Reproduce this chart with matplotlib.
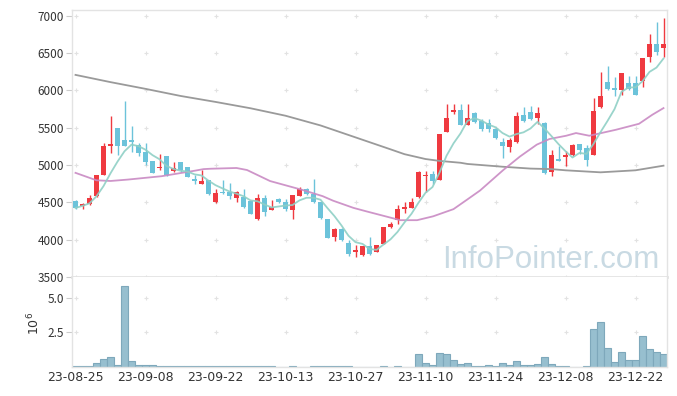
import matplotlib
matplotlib.use("Agg")
import matplotlib.pyplot as plt
import numpy as np
import pandas as pd

plt.rcParams['font.family'] = ['Noto Sans CJK KR', 'DejaVu Sans']

# ---------------- data ----------------
opens = [4520, 4450, 4475, 4580, 4865, 5250, 5500, 5340, 5340, 5270,
         5170, 5055, 4955, 5125, 4925, 5045, 4975, 4810, 4750, 4795,
         4500, 4637, 4637, 4560, 4570, 4516, 4280, 4560, 4404, 4538,
         4507, 4395, 4583, 4682, 4614, 4500, 4278, 4031, 4148, 3956,
         3835, 3791, 3913, 3835, 3943, 4170, 4270, 4409, 4430, 4565,
         4848, 4886, 4805, 5441, 5705, 5741, 5536, 5695, 5591, 5568,
         5486, 5305, 5241, 5305, 5668, 5705, 5623, 5568, 4902, 5085,
         5103, 5129, 5285, 5227, 5138, 5775, 6109, 6033, 5998, 6096,
         6096, 6131, 6443, 6621, 6572]
closes = [4425, 4480, 4555, 4865, 5260, 5285, 5260, 5250, 5310, 5160,
          5045, 4895, 4977, 4860, 4955, 4930, 4840, 4790, 4785, 4605,
          4630, 4623, 4583, 4637, 4440, 4350, 4560, 4368, 4440, 4502,
          4417, 4592, 4682, 4614, 4502, 4287, 4027, 4143, 3991, 3813,
          3857, 3913, 3804, 3930, 4170, 4204, 4409, 4443, 4509, 4910,
          4870, 4791, 5409, 5636, 5741, 5536, 5636, 5582, 5477, 5477,
          5355, 5250, 5341, 5650, 5591, 5614, 5695, 4895, 5138, 5058,
          5138, 5272, 5205, 5071, 5726, 5927, 6020, 5998, 6229, 6016,
          5940, 6430, 6621, 6519, 6621]
highs = [4530, 4485, 4600, 4870, 5300, 5650, 5500, 5860, 5520, 5295,
         5295, 5060, 5150, 5125, 5045, 5045, 4977, 4864, 4930, 4800,
         4680, 4805, 4753, 4650, 4673, 4520, 4605, 4592, 4530, 4560,
         4538, 4592, 4705, 4690, 4815, 4505, 4280, 4157, 4150, 4000,
         3930, 3913, 4040, 3935, 4175, 4240, 4465, 4500, 4552, 4920,
         4920, 4920, 5409, 5818, 5818, 5818, 5818, 5705, 5620, 5610,
         5500, 5364, 5364, 5714, 5773, 5795, 5773, 5580, 5196, 5250,
         5183, 5285, 5285, 5265, 5895, 6243, 6332, 6176, 6235, 6198,
         6198, 6435, 6755, 6920, 6964]
lows = [4410, 4410, 4470, 4570, 4860, 5160, 5140, 5250, 5180, 5114,
        5000, 4890, 4930, 4855, 4910, 4910, 4835, 4741, 4740, 4600,
        4495, 4605, 4538, 4500, 4426, 4340, 4269, 4314, 4400, 4490,
        4381, 4280, 4580, 4600, 4493, 4280, 4020, 3978, 3980, 3783,
        3770, 3783, 3800, 3830, 3940, 4160, 4204, 4357, 4425, 4560,
        4640, 4740, 4800, 5441, 5682, 5530, 5530, 5560, 5450, 5440,
        5350, 5091, 5170, 5300, 5570, 5600, 5545, 4880, 4858, 5050,
        4982, 5120, 5150, 4982, 5130, 5770, 6010, 5927, 5940, 6010,
        5935, 6051, 6385, 6474, 6452]
volumes = [0.08, 0.08, 0.08, 0.31, 0.60, 0.75, 0.17, 5.85, 0.46, 0.17,
           0.17, 0.17, 0.10, 0.10, 0.10, 0.10, 0.05, 0.05, 0.05, 0.05,
           0.05, 0.05, 0.05, 0.05, 0.05, 0.05, 0.10, 0.10, 0.05, 0.01,
           0.01, 0.07, 0.03, 0.01, 0.07, 0.07, 0.07, 0.07, 0.07, 0.07,
           0.03, 0.01, 0.03, 0.01, 0.07, 0.01, 0.07, 0.03, 0.03, 0.94,
           0.29, 0.14, 1.01, 0.94, 0.51, 0.22, 0.29, 0.07, 0.07, 0.17,
           0.07, 0.31, 0.17, 0.46, 0.17, 0.17, 0.24, 0.75, 0.24, 0.07,
           0.07, 0.02, 0.02, 0.10, 2.78, 3.29, 1.40, 0.39, 1.11, 0.53,
           0.53, 2.27, 1.33, 1.11, 0.92]

# moving averages (20-day and 120-day)
ma20_x = [0, 3, 5, 7.5, 12.3, 17, 18.3, 19.3, 23, 24.5, 27.8, 32.5, 35.3,
          36.8, 39.7, 41.6, 46.4, 48.8, 51.1, 54, 56, 57.8, 61.1, 63.5,
          65.9, 67.7, 70.1, 71.5, 73.4, 77.2, 80.5, 82.4, 84]
ma20_y = [4895, 4795, 4786, 4805, 4850, 4923, 4945, 4950, 4960, 4933,
          4785, 4664, 4583, 4522, 4426, 4378, 4261, 4261, 4313, 4409,
          4540, 4659, 4932, 5114, 5273, 5348, 5392, 5428, 5392, 5472,
          5552, 5673, 5762]
ma120_x = [0, 5, 10, 15, 20, 25, 30, 35, 40, 45, 47, 50, 52, 55, 56, 61,
           65, 68, 70, 75, 80, 84]
ma120_y = [6207, 6110, 6020, 5925, 5845, 5760, 5660, 5530, 5370, 5210,
           5145, 5080, 5055, 5030, 5014, 4977, 4952, 4945, 4929, 4902,
           4929, 4991]

tick_pos = [0, 10, 20, 30, 40, 50, 60, 70, 80]
tick_labels = ['23-08-25', '23-09-08', '23-09-22', '23-10-13', '23-10-27',
               '23-11-10', '23-11-24', '23-12-08', '23-12-22']
price_ticks = [3500, 4000, 4500, 5000, 5500, 6000, 6500, 7000]
vol_ticks = [2.5, 5.0]
vol_tick_labels = ['2.5', '5.0']

# ---------------- styling ----------------
UP = '#ef3a40'
DOWN = '#6cc3da'
VOLC = '#97bfcf'
VOLE = '#7ea8bb'
C_MA5 = '#8fd0c6'
C_MA20 = '#c98ac3'
C_MA120 = '#9a9a9a'
FRAME = '#e3e3e3'
TXT = '#333333'

n = len(opens)
x = np.arange(n)
o = np.array(opens, float)
c = np.array(closes, float)
h = np.array(highs, float)
l = np.array(lows, float)
ma5 = pd.Series(c).rolling(5, min_periods=1).mean().values

fig = plt.figure(figsize=(6.77, 3.96), dpi=100)
ax = fig.add_axes([72/677, 1-277/396, 595/677, 267/396])
axv = fig.add_axes([72/677, 1-367/396, 595/677, 90/396], sharex=ax)

# watermark
ax.text(0.988, 0.034, 'InfoPointer.com', transform=ax.transAxes, ha='right',
        va='baseline', fontsize=22.5, color='#c9dae3', family='Liberation Sans',
        zorder=0)

# grid crosses
for axx, yt in ((ax, price_ticks), (axv, vol_ticks)):
    gx, gy = np.meshgrid(tick_pos, yt)
    axx.scatter(gx.ravel(), gy.ravel(), marker='+', s=12, color='#e2e2e2',
                linewidths=0.8, zorder=0.5, clip_on=True)

# candles
up = c >= o
cols = np.where(up, UP, DOWN)
bottom = np.minimum(o, c)
height = np.maximum(np.abs(c - o), 12)
ax.vlines(x, l, h, colors=cols, linewidth=1.0, zorder=2)
ax.bar(x, height, bottom=bottom, width=0.72, color=cols, linewidth=0,
       zorder=3)

# moving averages
ax.plot(ma120_x, ma120_y, color=C_MA120, lw=1.3, zorder=4)
ax.plot(ma20_x, ma20_y, color=C_MA20, lw=1.3, zorder=4, alpha=0.9)
ax.plot(x, ma5, color=C_MA5, lw=1.3, zorder=4, alpha=0.9)

ax.set_xlim(-0.5, n - 0.5)
ax.set_ylim(3500, 7076)
ax.set_yticks(price_ticks)
ax.set_yticklabels([str(t) for t in price_ticks])
ax.tick_params(axis='y', length=4, width=0.8, color='#cccccc', pad=2,
               labelsize=8.5, labelcolor=TXT)
ax.tick_params(axis='x', length=0, labelbottom=False)

# volume
axv.bar(x, volumes, width=1.0, color=VOLC, edgecolor=VOLE, linewidth=0.8,
        zorder=2)
axv.set_ylim(0, 6.52)
axv.set_yticks(vol_ticks)
axv.set_yticklabels(vol_tick_labels)
axv.set_xticks(tick_pos)
axv.set_xticklabels(tick_labels, family=['DejaVu Sans'])
axv.tick_params(axis='y', length=4, width=0.8, color='#cccccc', pad=2,
                labelsize=8.5, labelcolor=TXT)
axv.tick_params(axis='x', length=0, pad=3, labelsize=9, labelcolor=TXT)
fig.text(34/677, 1-323/396, r'$10^{6}$', rotation=90, ha='center',
         va='center', fontsize=9, color=TXT)

for a in (ax, axv):
    for s in a.spines.values():
        s.set_color(FRAME)
        s.set_linewidth(1.0)
ax.spines['bottom'].set_linewidth(2.0)
axv.spines['top'].set_visible(False)

fig.savefig('out.png', dpi=100, facecolor='white')
